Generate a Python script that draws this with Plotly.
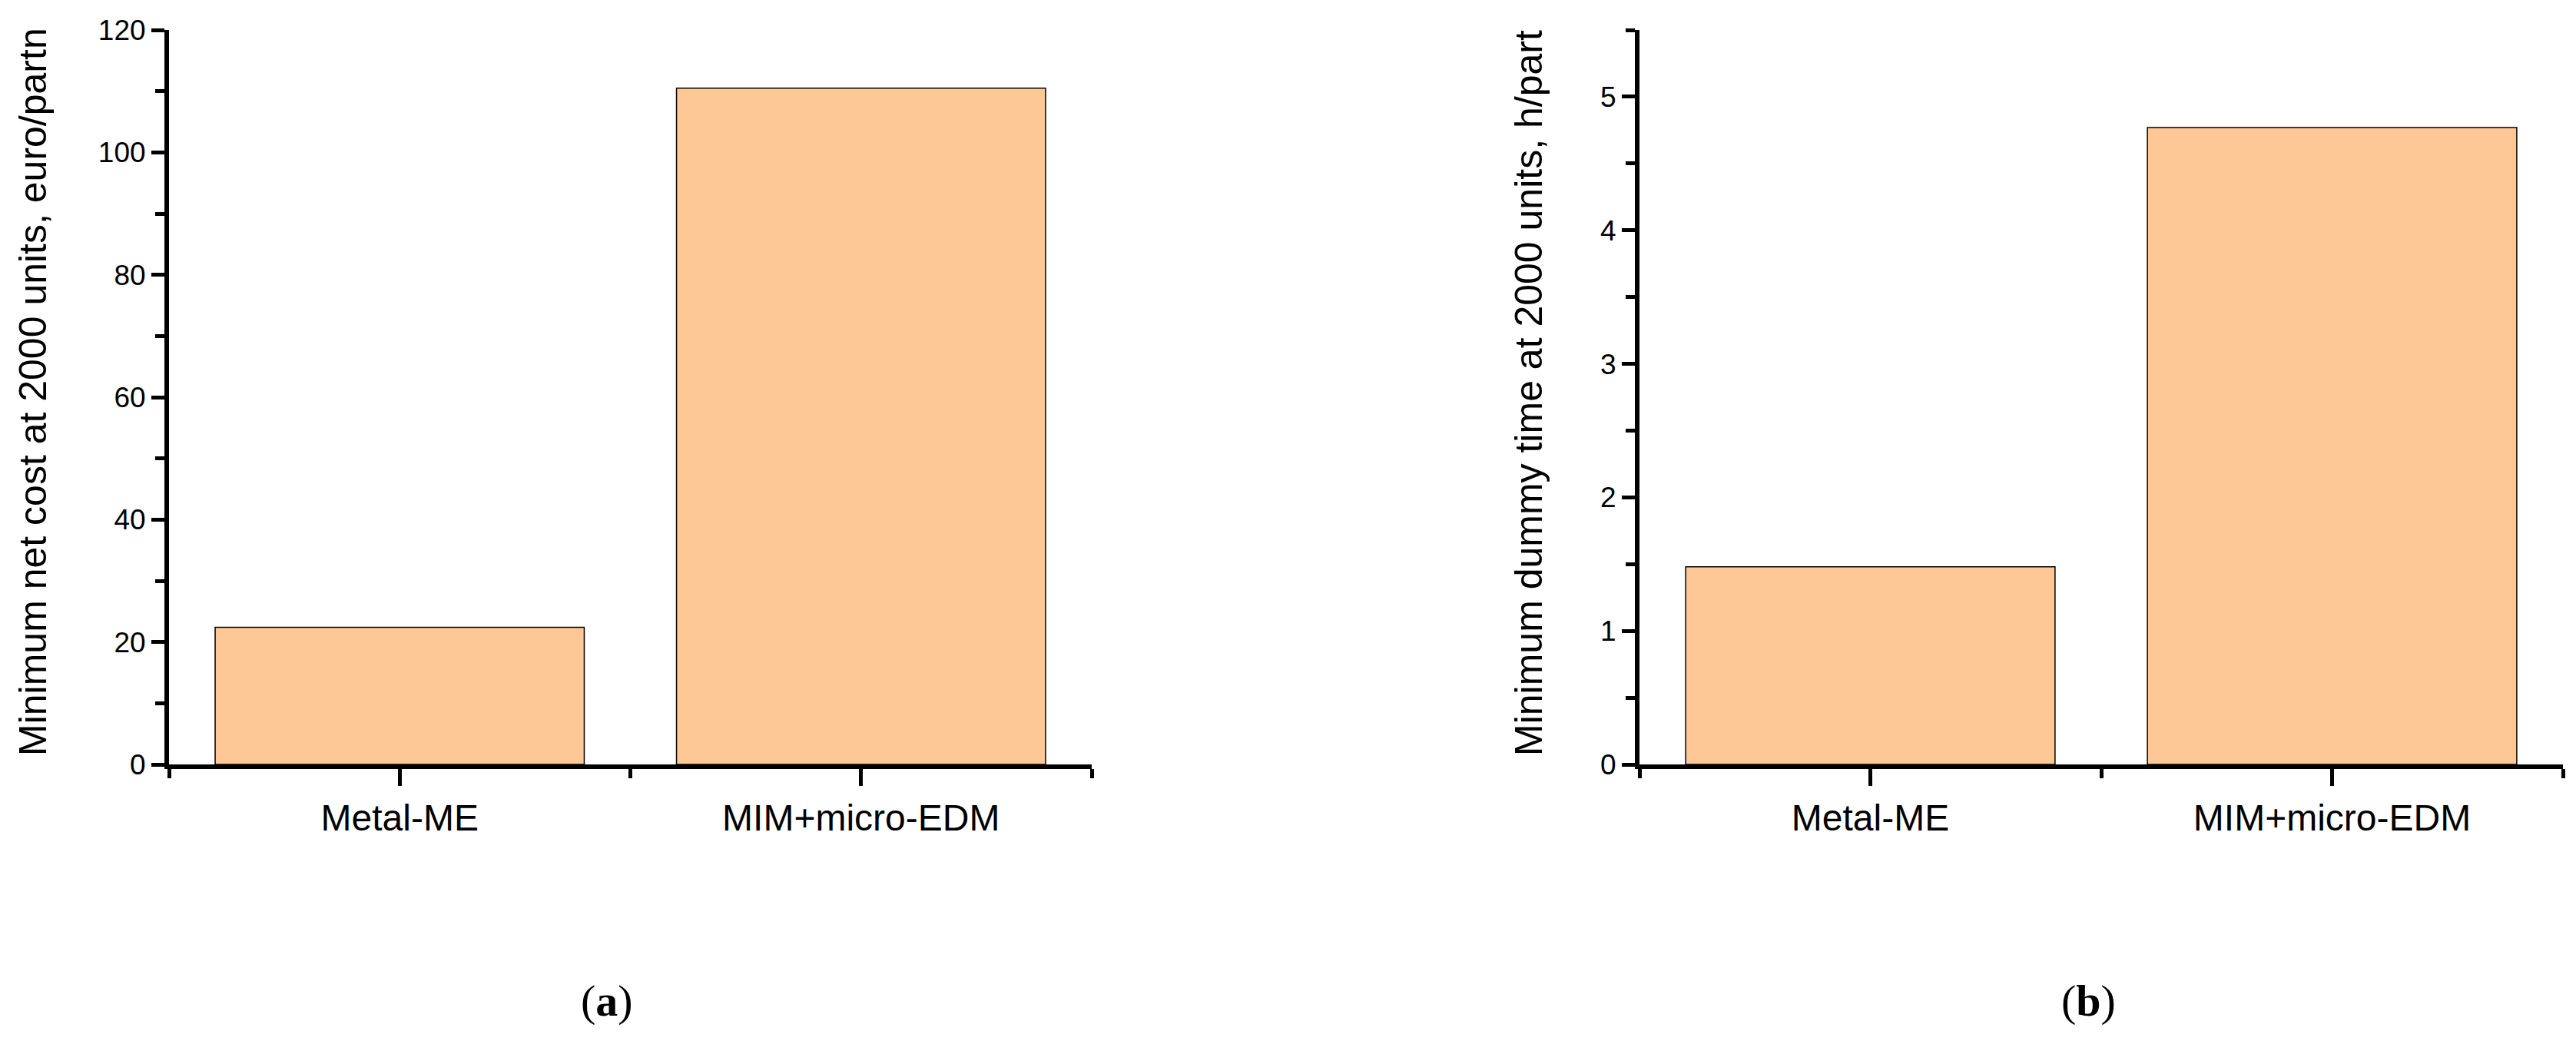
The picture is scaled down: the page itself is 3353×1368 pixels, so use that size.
import plotly.graph_objects as go

# ---- data ----
categories = ["Metal-ME", "MIM+micro-EDM"]
cost_values = [22.4, 110.5]          # euro/part at 2000 units
time_values = [1.48, 4.77]           # h/part at 2000 units
cost_ticks = [0, 20, 40, 60, 80, 100, 120]
time_ticks = [0, 1, 2, 3, 4, 5]
cost_title = "Minimum net cost at 2000 units, euro/partn"
time_title = "Minimum dummy time at 2000 units, h/part"
panel_labels = ["(<b>a</b>)", "(<b>b</b>)"]

# ---- layout helpers (window pixel -> paper); page body has an 8px margin ----
W, H = 3353, 1368
OFF = 8
FW, FH = W - 2 * OFF, H - 2 * OFF
def px_x(p):
    return (p - OFF) / FW
def px_y(p):
    return 1 - (p - OFF) / FH

SANS = "Liberation Sans, Arial, sans-serif"
SERIF = "Liberation Serif, Times New Roman, serif"
BAR_COLOR = "#FEC896"

x_pos = list(range(len(categories)))
boundaries = [i - 0.5 for i in range(len(categories) + 1)]

fig = go.Figure()
fig.add_trace(go.Bar(
    x=x_pos, y=cost_values, width=0.8,
    marker=dict(color=BAR_COLOR, line=dict(color="black", width=1.5)),
    xaxis="x", yaxis="y", showlegend=False, hoverinfo="x+y"))
fig.add_trace(go.Bar(
    x=x_pos, y=time_values, width=0.8,
    marker=dict(color=BAR_COLOR, line=dict(color="black", width=1.5)),
    xaxis="x2", yaxis="y2", showlegend=False, hoverinfo="x+y"))

def xaxis_cfg(domain, anchor):
    return dict(
        domain=domain, anchor=anchor, range=[-0.5, len(categories) - 0.5],
        tickmode="array", tickvals=x_pos, ticktext=categories,
        ticks="outside", ticklen=22, tickwidth=5, tickcolor="black",
        minor=dict(tickmode="array", tickvals=boundaries, ticks="outside",
                   ticklen=12, tickwidth=5, tickcolor="black"),
        showline=True, linewidth=6, linecolor="black",
        showgrid=False, zeroline=False, fixedrange=True, automargin=False,
        tickfont=dict(family=SANS, size=48, color="black"),
        ticklabelstandoff=0,
    )

def yaxis_cfg(domain, anchor, rng, ticks, minor_dtick):
    return dict(
        domain=domain, anchor=anchor, range=rng,
        tickmode="array", tickvals=ticks,
        ticks="outside", ticklen=17, tickwidth=5, tickcolor="black",
        minor=dict(dtick=minor_dtick, tick0=0, ticks="outside",
                   ticklen=12, tickwidth=5, tickcolor="black"),
        showline=True, linewidth=6, linecolor="black",
        showgrid=False, zeroline=False, fixedrange=True, automargin=False,
        tickfont=dict(family=SANS, size=37, color="black"),
    )

y_dom = [px_y(995), px_y(39)]
fig.update_layout(
    width=FW, height=FH,
    margin=dict(l=0, r=0, t=0, b=0, autoexpand=False),
    paper_bgcolor="white", plot_bgcolor="white",
    bargap=0.2,
    xaxis=xaxis_cfg([px_x(220), px_x(1421)], "y"),
    yaxis=yaxis_cfg(y_dom, "x", [0, 120], cost_ticks, 10),
    xaxis2=xaxis_cfg([px_x(2134), px_x(3336)], "y2"),
    yaxis2=yaxis_cfg(y_dom, "x2", [0, 5.5], time_ticks, 0.5),
)

annotations = [
    dict(text=cost_title, x=px_x(43), y=px_y(510), xref="paper", yref="paper",
         textangle=-90, showarrow=False, xanchor="center", yanchor="middle",
         font=dict(family=SANS, size=50, color="black")),
    dict(text=time_title, x=px_x(1990), y=px_y(512), xref="paper", yref="paper",
         textangle=-90, showarrow=False, xanchor="center", yanchor="middle",
         font=dict(family=SANS, size=50, color="black")),
    dict(text=panel_labels[0], x=px_x(790), y=px_y(1302), xref="paper", yref="paper",
         showarrow=False, xanchor="center", yanchor="middle",
         font=dict(family=SERIF, size=58, color="black")),
    dict(text=panel_labels[1], x=px_x(2718), y=px_y(1302), xref="paper", yref="paper",
         showarrow=False, xanchor="center", yanchor="middle",
         font=dict(family=SERIF, size=58, color="black")),
]
fig.update_layout(annotations=annotations)

fig.write_html("out.html")
